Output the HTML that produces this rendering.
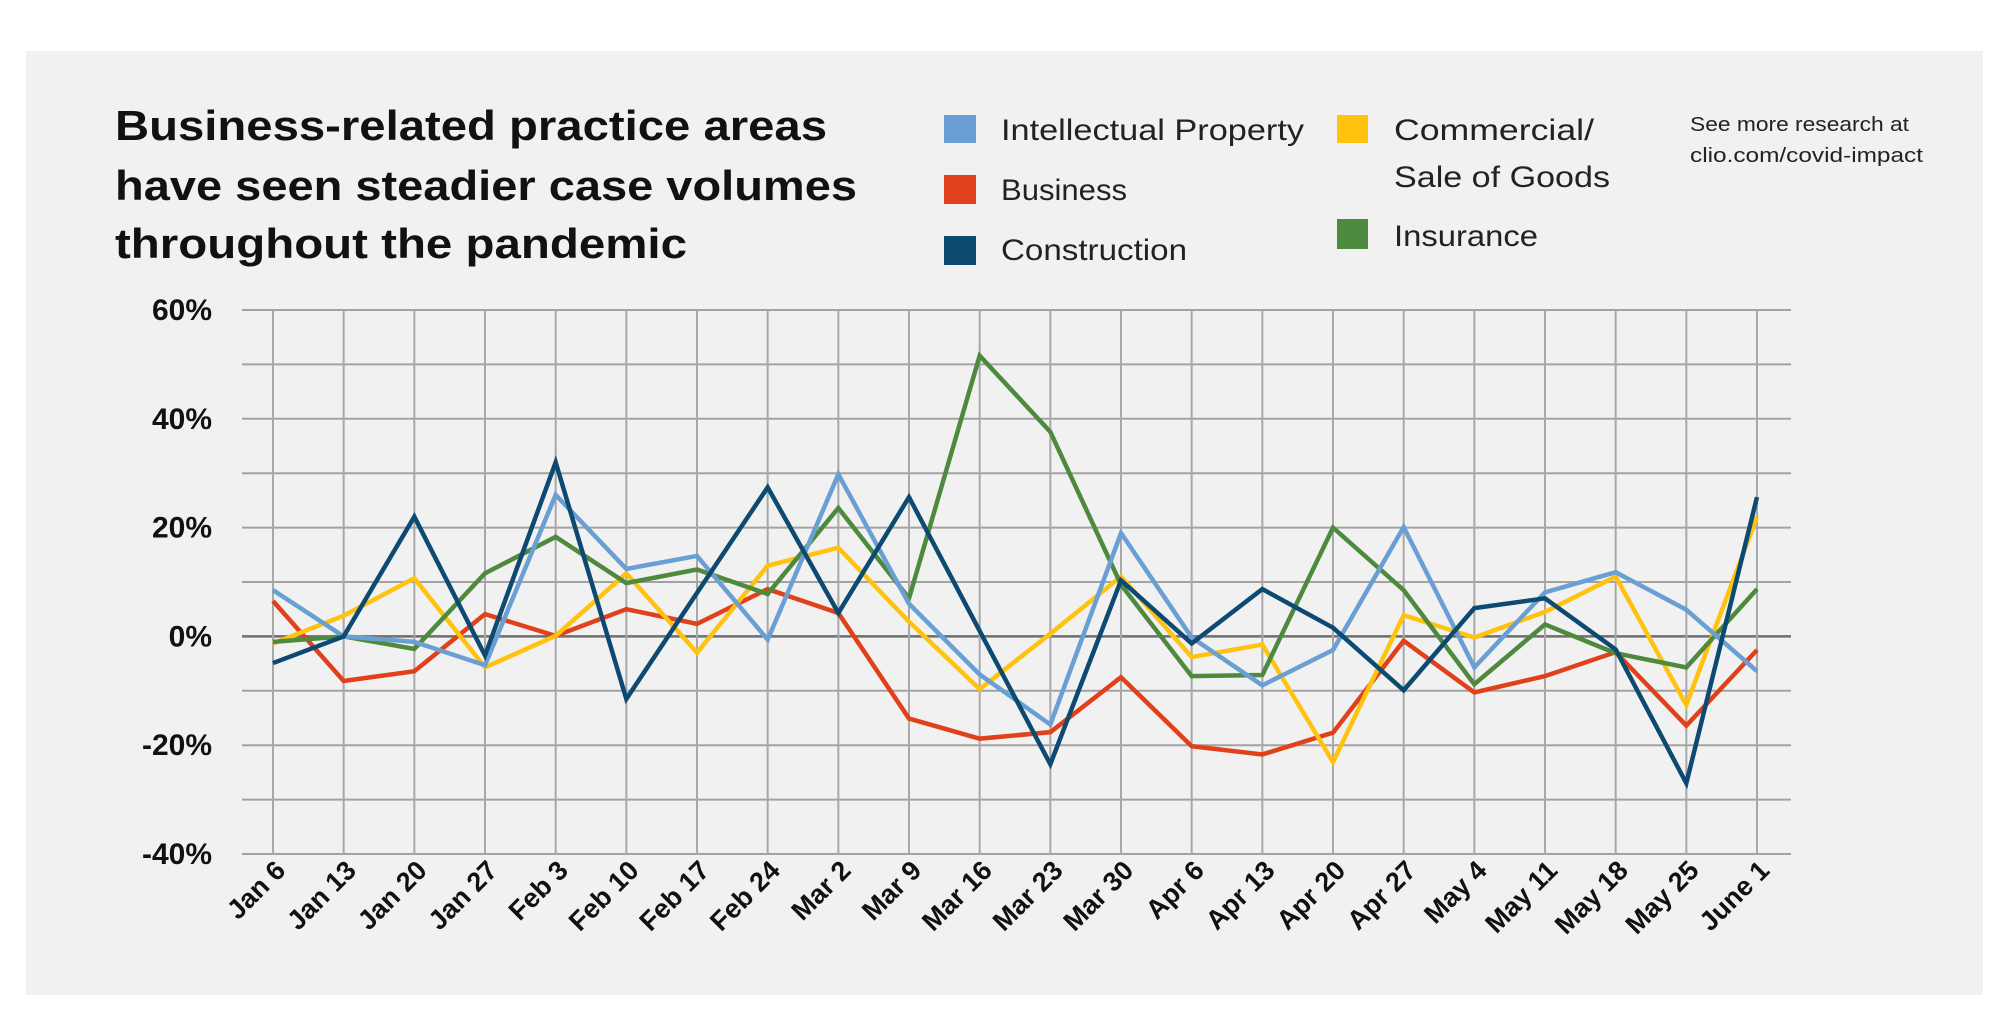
<!DOCTYPE html>
<html><head><meta charset="utf-8"><style>
html,body{margin:0;padding:0;background:#fff;}
svg{display:block;font-family:"Liberation Sans",sans-serif;}
</style></head><body>
<svg id="chart" width="2000" height="1027" viewBox="0 0 2000 1027">
<rect x="26" y="51" width="1957" height="944" fill="#f1f1f1"/>
<g font-weight="bold" font-size="42" fill="#111">
<text x="115" y="140" textLength="712" lengthAdjust="spacingAndGlyphs">Business-related practice areas</text>
<text x="115" y="200" textLength="742" lengthAdjust="spacingAndGlyphs">have seen steadier case volumes</text>
<text x="115" y="258" textLength="572" lengthAdjust="spacingAndGlyphs">throughout the pandemic</text>
</g>
<g font-size="30" fill="#222">
<g><rect x="944" y="115" width="32" height="28" fill="#6a9fd4"/><text x="1001" y="140" textLength="303" lengthAdjust="spacingAndGlyphs">Intellectual Property</text></g>
<g><rect x="944" y="175" width="32" height="29" fill="#e0401a"/><text x="1001" y="200" textLength="126" lengthAdjust="spacingAndGlyphs">Business</text></g>
<g><rect x="944" y="236" width="32" height="29" fill="#0d4a72"/><text x="1001" y="260" textLength="186" lengthAdjust="spacingAndGlyphs">Construction</text></g>
<g><rect x="1337" y="115" width="31" height="28" fill="#ffc20e"/><text x="1394" y="140" textLength="200" lengthAdjust="spacingAndGlyphs">Commercial/</text><text x="1394" y="187" textLength="216" lengthAdjust="spacingAndGlyphs">Sale of Goods</text></g>
<g><rect x="1337" y="219" width="31" height="30" fill="#4e8a3e"/><text x="1394" y="246" textLength="144" lengthAdjust="spacingAndGlyphs">Insurance</text></g>
</g>
<g font-size="20" fill="#222">
<text x="1690" y="131" textLength="219" lengthAdjust="spacingAndGlyphs">See more research at</text>
<text x="1690" y="162" textLength="233" lengthAdjust="spacingAndGlyphs">clio.com/covid-impact</text>
</g>
<g id="grid"></g>
<g id="ylab"></g>
<g id="xlab"></g>
<g id="lines"></g>
</svg>
<script>
const categories = ["Jan 6","Jan 13","Jan 20","Jan 27","Feb 3","Feb 10","Feb 17","Feb 24","Mar 2","Mar 9","Mar 16","Mar 23","Mar 30","Apr 6","Apr 13","Apr 20","Apr 27","May 4","May 11","May 18","May 25","June 1"];
const yTicks = [-40,-20,0,20,40,60];
const business = [6.5,-8.2,-6.4,4.1,0.1,5,2.3,8.7,4.3,-15.1,-18.8,-17.6,-7.5,-20.2,-21.7,-17.7,-0.8,-10.3,-7.3,-2.9,-16.4,-2.5];
const commercial = [-1.3,3.8,10.7,-5.7,0.1,11.6,-3,13,16.3,2.7,-9.7,0.5,11,-3.8,-1.5,-23.1,3.9,-0.2,4.5,11,-12.6,22];
const insurance = [-1,0,-2.3,11.6,18.3,9.8,12.3,7.8,23.6,7,51.6,37.6,9.5,-7.3,-7.1,20,8.5,-8.8,2.2,-3.1,-5.7,8.7];
const intellectual = [8.5,0,-1,-5.3,26,12.4,14.8,-0.6,29.8,6,-7,-16.2,19,-0.2,-9,-2.5,20.1,-5.7,8.1,11.8,4.9,-6.4];
const construction = [-4.9,0,22,-3.5,32,-11.5,8,27.4,4.3,25.6,1,-23.5,10.3,-1.3,8.7,1.6,-9.9,5.2,7,-2.4,-27,25.6];

const NS="http://www.w3.org/2000/svg";
const X0=273,X1=1757,YTOP=310,YBOT=854,VMIN=-40,VMAX=60;
function xs(i){return X0+(X1-X0)*i/(categories.length-1);}
function ys(v){return YBOT-(v-VMIN)/(VMAX-VMIN)*(YBOT-YTOP);}
function mk(tag,attrs,parent){const e=document.createElementNS(NS,tag);for(const k in attrs)e.setAttribute(k,attrs[k]);parent.appendChild(e);return e;}
const grid=document.getElementById('grid');
for(let v=VMIN;v<=VMAX;v+=10){
  const l=mk('line',{x1:242,x2:1791,y1:ys(v),y2:ys(v),stroke:v===0?'#6e6e6e':'#a2a2a2','stroke-width':v===0?2.5:2},grid);
  
  
}
categories.forEach((c,i)=>{
  const l=mk('line',{x1:xs(i),x2:xs(i),y1:YTOP,y2:YBOT,stroke:'#a8a8a8','stroke-width':2},grid);
  
  
});
const ylab=document.getElementById('ylab');
yTicks.forEach(v=>{
  const t=mk('text',{x:212,y:ys(v)+10,'text-anchor':'end','font-size':30,'font-weight':'bold',fill:'#111'},ylab);
  t.textContent=v+'%';
  
  
});
const xlab=document.getElementById('xlab');
categories.forEach((c,i)=>{
  const x=xs(i)+14,y=YBOT+18;
  const t=mk('text',{x:x,y:y,'text-anchor':'end','font-size':27,'font-weight':'bold',fill:'#111',transform:`rotate(-45 ${x} ${y})`},xlab);
  t.textContent=c;
  
  
});
const series=[["business",business,"#e0401a"],["commercial",commercial,"#ffc20e"],["insurance",insurance,"#4e8a3e"],["intellectual-property",intellectual,"#6a9fd4"],["construction",construction,"#0d4a72"]];
const lines=document.getElementById('lines');
series.forEach(([n,d,c])=>{
  const p=mk('polyline',{points:d.map((v,i)=>xs(i)+','+ys(v)).join(' '),fill:'none',stroke:c,'stroke-width':4.5,'stroke-linejoin':'miter'},lines);
  
  
});
</script>
</body></html>
